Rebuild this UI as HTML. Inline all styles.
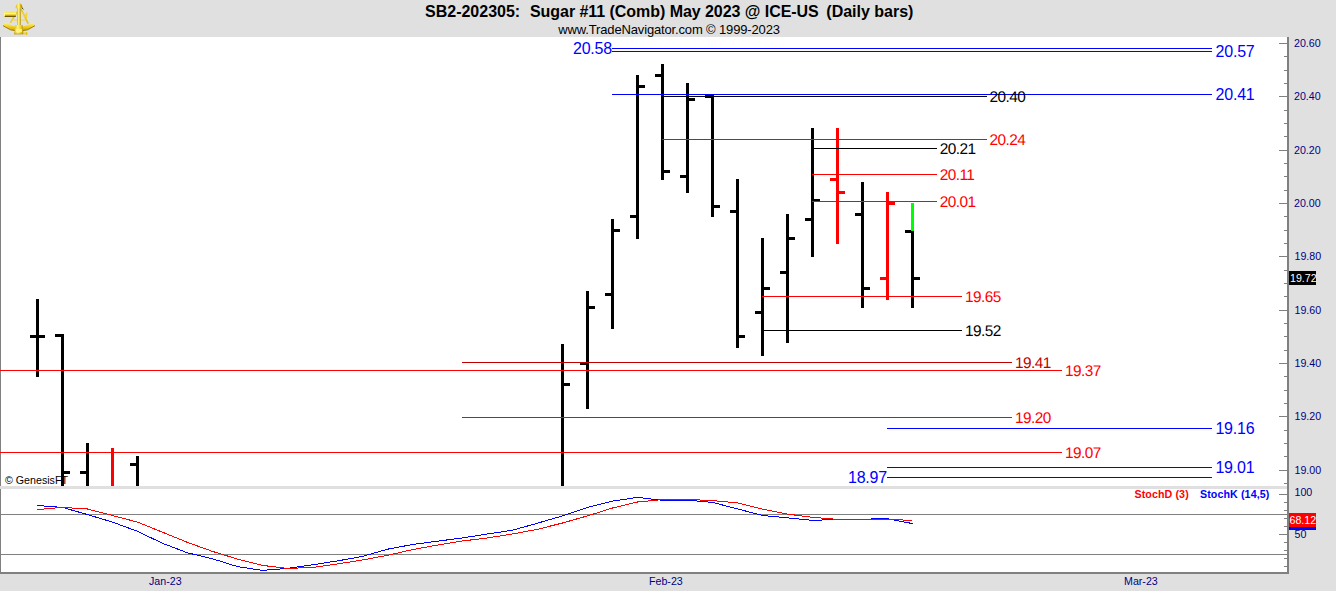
<!DOCTYPE html>
<html><head><meta charset="utf-8"><title>SB2-202305</title>
<style>
html,body{margin:0;padding:0}
body{width:1336px;height:591px;position:relative;overflow:hidden;background:#e0e0e0;font-family:"Liberation Sans",sans-serif}
#c div{position:absolute}
.t{position:absolute;line-height:20px;height:20px;white-space:pre}
.b{letter-spacing:-0.2px}
.m{letter-spacing:-0.56px;font-size:15.4px !important;text-rendering:geometricPrecision;margin-top:0.8px}
.a{position:absolute;font-size:10.667px;line-height:20px;height:20px;color:#000080;white-space:pre}
#plot{position:absolute;left:0;top:37px;width:1287px;height:535px;background:#fff}
.tt{position:absolute;top:2px;font-weight:bold;font-size:16px;line-height:19px;color:#000;white-space:pre}
#sub{position:absolute;left:558.3px;top:21.6px;font-size:13px;letter-spacing:-0.15px;line-height:15px;color:#000;white-space:pre}
</style></head><body>
<div id="plot"></div>
<span class="tt" style="left:425px">SB2-202305:</span><span class="tt" style="left:530px;letter-spacing:-0.05px">Sugar #11 (Comb) May 2023 @ ICE-US</span><span class="tt" style="left:826.3px">(Daily bars)</span>
<div id="sub">www.TradeNavigator.com © 1999-2023</div>
<svg style="position:absolute;left:0;top:0" width="40" height="37" viewBox="0 0 40 37">
<defs>
<linearGradient id="g1" x1="0" y1="0" x2="0" y2="1"><stop offset="0" stop-color="#f6dc3c"/><stop offset="0.3" stop-color="#fff68e"/><stop offset="0.65" stop-color="#e6c010"/><stop offset="1" stop-color="#4a3600"/></linearGradient>
<linearGradient id="g2" x1="0" y1="0" x2="1" y2="0"><stop offset="0" stop-color="#d9b40c"/><stop offset="0.4" stop-color="#fff37c"/><stop offset="0.75" stop-color="#eccb18"/><stop offset="1" stop-color="#a88400"/></linearGradient>
<linearGradient id="g3" x1="0" y1="0" x2="0" y2="1"><stop offset="0" stop-color="#fff58c"/><stop offset="0.45" stop-color="#f4d422"/><stop offset="1" stop-color="#c9a200"/></linearGradient>
</defs>
<path d="M3 25.5 A26 26 0 0 0 35 25.5 L32.3 22.3 A22 22 0 0 1 5.7 22.3Z" fill="url(#g3)"/>
<path d="M3 25.7 A26 26 0 0 0 35 25.7" fill="none" stroke="#8a6800" stroke-width="0.8"/>
<path d="M17.6 11.5 L10.4 22.6" stroke="#e9c71c" stroke-width="1.4" fill="none"/>
<path d="M11.5 20 L27.2 20" stroke="#f4da40" stroke-width="1.1" fill="none"/>
<path d="M21 9 L28.2 23.6" stroke="#e6c216" stroke-width="1.6" fill="none"/>
<path d="M22.2 12 L24.6 17.2 L27 12.6 L26.2 19.5" stroke="#f2d63a" stroke-width="1.2" fill="none"/>
<path d="M21.6 7.5 L23.4 9.2" stroke="#3a2a00" stroke-width="1" fill="none"/>
<rect x="4" y="12" width="12" height="4.9" rx="0.7" fill="url(#g1)"/>
<rect x="4" y="12.3" width="1" height="4.3" fill="#fff48a"/>
<rect x="17.2" y="6" width="3.5" height="21" fill="url(#g2)"/>
<path d="M15.6 8.2 L16.2 5 L19 2.6 L21.9 5 L22.5 8.2Z" fill="url(#g2)"/>
<path d="M19.8 3.4 L21.9 5 L22.5 8.2 L20.6 8.2Z" fill="#b08c00" opacity="0.55"/>
<path d="M15.4 25 L22.6 25 L23.5 34 L14 34Z" fill="url(#g2)"/>
<rect x="15.8" y="29" width="6.2" height="3" fill="#fff590" opacity="0.8"/>
<path d="M14 34 L23.5 34" stroke="#a07c00" stroke-width="0.6"/>
<rect x="23.4" y="32.5" width="3.7" height="2" fill="#f0d024"/>
<rect x="26.2" y="32" width="1" height="3" fill="#e0bc10"/>
</svg>
<div id="c">
<div style="left:0;top:37px;width:1px;height:537px;background:#808080"></div>
<div style="left:1287px;top:37px;width:2px;height:537px;background:#808080"></div>
<div style="left:0;top:572px;width:1289px;height:2px;background:#808080"></div>
<div style="left:36px;top:299px;width:3px;height:78px;background:#000;"></div>
<div style="left:30px;top:335px;width:6px;height:3px;background:#000;"></div>
<div style="left:39px;top:335px;width:6px;height:3px;background:#000;"></div>
<div style="left:61px;top:334px;width:3px;height:152px;background:#000;"></div>
<div style="left:55px;top:334px;width:6px;height:3px;background:#000;"></div>
<div style="left:64px;top:471px;width:6px;height:3px;background:#000;"></div>
<div style="left:86px;top:443px;width:3px;height:43px;background:#000;"></div>
<div style="left:80px;top:471px;width:6px;height:3px;background:#000;"></div>
<div style="left:111px;top:448px;width:3px;height:38px;background:#ff0000;"></div>
<div style="left:136px;top:456px;width:3px;height:30px;background:#000;"></div>
<div style="left:130px;top:463px;width:6px;height:3px;background:#000;"></div>
<div style="left:561px;top:344px;width:3px;height:142px;background:#000;"></div>
<div style="left:564px;top:383px;width:6px;height:3px;background:#000;"></div>
<div style="left:586px;top:291px;width:3px;height:118px;background:#000;"></div>
<div style="left:580px;top:362px;width:6px;height:3px;background:#000;"></div>
<div style="left:589px;top:306px;width:6px;height:3px;background:#000;"></div>
<div style="left:611px;top:219px;width:3px;height:110px;background:#000;"></div>
<div style="left:605px;top:293px;width:6px;height:3px;background:#000;"></div>
<div style="left:614px;top:229px;width:6px;height:3px;background:#000;"></div>
<div style="left:636px;top:75px;width:3px;height:164px;background:#000;"></div>
<div style="left:630px;top:215px;width:6px;height:3px;background:#000;"></div>
<div style="left:639px;top:85px;width:6px;height:3px;background:#000;"></div>
<div style="left:661px;top:64px;width:3px;height:116px;background:#000;"></div>
<div style="left:655px;top:74px;width:6px;height:3px;background:#000;"></div>
<div style="left:664px;top:170px;width:6px;height:3px;background:#000;"></div>
<div style="left:686px;top:83px;width:3px;height:110px;background:#000;"></div>
<div style="left:680px;top:175px;width:6px;height:3px;background:#000;"></div>
<div style="left:689px;top:98px;width:6px;height:3px;background:#000;"></div>
<div style="left:711px;top:95px;width:3px;height:122px;background:#000;"></div>
<div style="left:705px;top:95px;width:6px;height:3px;background:#000;"></div>
<div style="left:714px;top:205px;width:6px;height:3px;background:#000;"></div>
<div style="left:736px;top:179px;width:3px;height:169px;background:#000;"></div>
<div style="left:730px;top:210px;width:6px;height:3px;background:#000;"></div>
<div style="left:739px;top:335px;width:6px;height:3px;background:#000;"></div>
<div style="left:761px;top:238px;width:3px;height:118px;background:#000;"></div>
<div style="left:755px;top:311px;width:6px;height:3px;background:#000;"></div>
<div style="left:764px;top:287px;width:6px;height:3px;background:#000;"></div>
<div style="left:786px;top:214px;width:3px;height:129px;background:#000;"></div>
<div style="left:780px;top:271px;width:6px;height:3px;background:#000;"></div>
<div style="left:789px;top:237px;width:6px;height:3px;background:#000;"></div>
<div style="left:811px;top:128px;width:3px;height:129px;background:#000;"></div>
<div style="left:805px;top:218px;width:6px;height:3px;background:#000;"></div>
<div style="left:814px;top:199px;width:6px;height:3px;background:#000;"></div>
<div style="left:836px;top:128px;width:3px;height:116px;background:#ff0000;"></div>
<div style="left:830px;top:178px;width:6px;height:3px;background:#ff0000;"></div>
<div style="left:839px;top:191px;width:6px;height:3px;background:#ff0000;"></div>
<div style="left:861px;top:182px;width:3px;height:126px;background:#000;"></div>
<div style="left:855px;top:213px;width:6px;height:3px;background:#000;"></div>
<div style="left:864px;top:287px;width:6px;height:3px;background:#000;"></div>
<div style="left:886px;top:192px;width:3px;height:108px;background:#ff0000;"></div>
<div style="left:880px;top:277px;width:6px;height:3px;background:#ff0000;"></div>
<div style="left:889px;top:202px;width:6px;height:3px;background:#ff0000;"></div>
<div style="left:911px;top:231px;width:3px;height:77px;background:#000;"></div>
<div style="left:905px;top:230px;width:6px;height:3px;background:#000;"></div>
<div style="left:914px;top:277px;width:6px;height:3px;background:#000;"></div>
<div style="left:911px;top:203px;width:3px;height:28px;background:#00ff00;"></div>
<div style="left:612px;top:48px;width:600px;height:1px;background:#0000ff;"></div>
<div style="left:612px;top:51px;width:600px;height:1px;background:#0000ff;"></div>
<div style="left:612px;top:94px;width:600px;height:1px;background:#0000ff;"></div>
<div style="left:664px;top:96px;width:323px;height:1px;background:#000;"></div>
<div style="left:662px;top:139px;width:325px;height:1px;background:#ff0000;"></div>
<div style="left:814px;top:148px;width:123px;height:1px;background:#000;"></div>
<div style="left:812px;top:174px;width:125px;height:1px;background:#ff0000;"></div>
<div style="left:812px;top:201px;width:125px;height:1px;background:#ff0000;"></div>
<div style="left:762px;top:296px;width:200px;height:1px;background:#ff0000;"></div>
<div style="left:764px;top:330px;width:198px;height:1px;background:#000;"></div>
<div style="left:462px;top:362px;width:550px;height:1px;background:#c00000;"></div>
<div style="left:0px;top:370px;width:1062px;height:1px;background:#ff0000;"></div>
<div style="left:462px;top:417px;width:550px;height:1px;background:#ff0000;"></div>
<div style="left:887px;top:428px;width:325px;height:1px;background:#0000ff;"></div>
<div style="left:0px;top:452px;width:1062px;height:1px;background:#ff0000;"></div>
<div style="left:887px;top:467px;width:325px;height:1px;background:#0000ff;"></div>
<div style="left:887px;top:477px;width:325px;height:1px;background:#0000ff;"></div>
<span class="t b" style="right:724.0px;top:39.3px;font-size:16px;color:#0000ff">20.58</span>
<span class="t b" style="left:1215.5px;top:42.1px;font-size:16px;color:#0000ff">20.57</span>
<span class="t b" style="left:1215.5px;top:85.1px;font-size:16px;color:#0000ff">20.41</span>
<span class="t m" style="left:989.6px;top:87.5px;font-size:15.01px;color:#000">20.40</span>
<span class="t m" style="left:989.6px;top:130px;font-size:15.01px;color:#ff0000">20.24</span>
<span class="t m" style="left:939.7px;top:139px;font-size:15.01px;color:#000">20.21</span>
<span class="t m" style="left:939.7px;top:165px;font-size:15.01px;color:#ff0000">20.11</span>
<span class="t m" style="left:939.7px;top:192.7px;font-size:15.01px;color:#ff0000">20.01</span>
<span class="t m" style="left:965.0px;top:287.6px;font-size:15.01px;color:#ff0000">19.65</span>
<span class="t m" style="left:965.0px;top:321px;font-size:15.01px;color:#000">19.52</span>
<span class="t m" style="left:1015.0px;top:353.5px;font-size:15.01px;color:#c00000">19.41</span>
<span class="t m" style="left:1065.0px;top:361.4px;font-size:15.01px;color:#ff0000">19.37</span>
<span class="t m" style="left:1015.0px;top:408.6px;font-size:15.01px;color:#ff0000">19.20</span>
<span class="t b" style="left:1215.4px;top:419px;font-size:16px;color:#0000ff">19.16</span>
<span class="t m" style="left:1065.0px;top:443.4px;font-size:15.01px;color:#ff0000">19.07</span>
<span class="t b" style="left:1215.4px;top:458px;font-size:16px;color:#0000ff">19.01</span>
<span class="t b" style="right:449.0px;top:468.1px;font-size:16px;color:#0000ff">18.97</span>
<div style="left:1279px;top:43px;width:8px;height:1px;background:#808080;"></div>
<span class="a" style="left:1294px;top:32.7px">20.60</span>
<div style="left:1284px;top:56px;width:3px;height:1px;background:#808080;"></div>
<div style="left:1284px;top:70px;width:3px;height:1px;background:#808080;"></div>
<div style="left:1284px;top:83px;width:3px;height:1px;background:#808080;"></div>
<div style="left:1279px;top:96px;width:8px;height:1px;background:#808080;"></div>
<span class="a" style="left:1294px;top:85.7px">20.40</span>
<div style="left:1284px;top:110px;width:3px;height:1px;background:#808080;"></div>
<div style="left:1284px;top:123px;width:3px;height:1px;background:#808080;"></div>
<div style="left:1284px;top:136px;width:3px;height:1px;background:#808080;"></div>
<div style="left:1279px;top:150px;width:8px;height:1px;background:#808080;"></div>
<span class="a" style="left:1294px;top:139.7px">20.20</span>
<div style="left:1284px;top:163px;width:3px;height:1px;background:#808080;"></div>
<div style="left:1284px;top:176px;width:3px;height:1px;background:#808080;"></div>
<div style="left:1284px;top:190px;width:3px;height:1px;background:#808080;"></div>
<div style="left:1279px;top:203px;width:8px;height:1px;background:#808080;"></div>
<span class="a" style="left:1294px;top:192.7px">20.00</span>
<div style="left:1284px;top:216px;width:3px;height:1px;background:#808080;"></div>
<div style="left:1284px;top:230px;width:3px;height:1px;background:#808080;"></div>
<div style="left:1284px;top:243px;width:3px;height:1px;background:#808080;"></div>
<div style="left:1279px;top:256px;width:8px;height:1px;background:#808080;"></div>
<span class="a" style="left:1294.5px;top:245.7px">19.80</span>
<div style="left:1284px;top:270px;width:3px;height:1px;background:#808080;"></div>
<div style="left:1284px;top:283px;width:3px;height:1px;background:#808080;"></div>
<div style="left:1284px;top:296px;width:3px;height:1px;background:#808080;"></div>
<div style="left:1279px;top:310px;width:8px;height:1px;background:#808080;"></div>
<span class="a" style="left:1294.5px;top:299.7px">19.60</span>
<div style="left:1284px;top:323px;width:3px;height:1px;background:#808080;"></div>
<div style="left:1284px;top:336px;width:3px;height:1px;background:#808080;"></div>
<div style="left:1284px;top:350px;width:3px;height:1px;background:#808080;"></div>
<div style="left:1279px;top:363px;width:8px;height:1px;background:#808080;"></div>
<span class="a" style="left:1294.5px;top:352.7px">19.40</span>
<div style="left:1284px;top:376px;width:3px;height:1px;background:#808080;"></div>
<div style="left:1284px;top:390px;width:3px;height:1px;background:#808080;"></div>
<div style="left:1284px;top:403px;width:3px;height:1px;background:#808080;"></div>
<div style="left:1279px;top:416px;width:8px;height:1px;background:#808080;"></div>
<span class="a" style="left:1294.5px;top:405.7px">19.20</span>
<div style="left:1284px;top:430px;width:3px;height:1px;background:#808080;"></div>
<div style="left:1284px;top:443px;width:3px;height:1px;background:#808080;"></div>
<div style="left:1284px;top:456px;width:3px;height:1px;background:#808080;"></div>
<div style="left:1279px;top:470px;width:8px;height:1px;background:#808080;"></div>
<span class="a" style="left:1294.5px;top:459.7px">19.00</span>
<div style="left:1284px;top:483px;width:3px;height:1px;background:#808080;"></div>
<div style="left:1279px;top:494px;width:8px;height:1px;background:#808080;"></div>
<div style="left:1284px;top:502px;width:3px;height:1px;background:#808080;"></div>
<div style="left:1284px;top:510px;width:3px;height:1px;background:#808080;"></div>
<div style="left:1284px;top:518px;width:3px;height:1px;background:#808080;"></div>
<div style="left:1284px;top:526px;width:3px;height:1px;background:#808080;"></div>
<div style="left:1279px;top:534px;width:8px;height:1px;background:#808080;"></div>
<div style="left:1284px;top:542px;width:3px;height:1px;background:#808080;"></div>
<div style="left:1284px;top:550px;width:3px;height:1px;background:#808080;"></div>
<div style="left:1284px;top:558px;width:3px;height:1px;background:#808080;"></div>
<div style="left:1284px;top:566px;width:3px;height:1px;background:#808080;"></div>
<span class="a" style="left:1294.5px;top:481.5px">100</span>
<span class="a" style="left:1294.5px;top:523.5px">50</span>
<div style="left:1px;top:514px;width:1286px;height:1px;background:#808080;"></div>
<div style="left:1px;top:554px;width:1286px;height:1px;background:#808080;"></div>
<div style="left:0;top:486px;width:1287px;height:3px;background:#e0e0e0"></div>
<span class="t" style="left:5px;top:470px;font-size:10.667px;color:#000">© GenesisFT</span>
<span class="t" style="left:1134.5px;top:483.5px;letter-spacing:0.1px;font-size:10.667px;font-weight:bold;color:#ff0000">StochD (3)</span>
<span class="t" style="left:1200px;top:483.5px;letter-spacing:0.1px;font-size:10.667px;font-weight:bold;color:#0000ff">StochK (14,5)</span>
<div style="left:1289px;top:271px;width:27px;height:14px;background:#000"></div>
<span class="a" style="left:1290px;top:268px;color:#fff">19.72</span>
<div style="left:1289px;top:516px;width:27px;height:14px;background:#0000ff"></div>
<div style="left:1289px;top:513px;width:27px;height:14px;background:#ff0000"></div>
<span class="a" style="left:1289.5px;top:510px;color:#fff">68.12</span>
<span class="a" style="left:149px;top:571px">Jan-23</span>
<span class="a" style="left:649px;top:571px">Feb-23</span>
<span class="a" style="left:1124px;top:571px">Mar-23</span>
</div>
<svg style="position:absolute;left:0;top:0" width="1336" height="591" shape-rendering="crispEdges"><polyline fill="none" stroke="#0000ff" stroke-width="1" points="37,505.5 62.5,507.4 87.5,514.6 112.5,522.1 137.5,531.3 162.5,543.3 187.5,552.8 212.5,558.8 237.5,566.6 262.5,570.4 287.5,568.4 312.5,564.8 337.5,560.9 362.5,556.4 387.5,549.2 412.5,544.5 437.5,541.2 462.5,537.9 487.5,534 512.5,530.2 537.5,523.2 562.5,515.9 587.5,507.4 612.5,501.1 637.5,497.4 662.5,500.3 687.5,500.2 712.5,502.4 737.5,508.9 762.5,515.5 787.5,517.8 812.5,520.4 837.5,519.4 862.5,519.6 875,518.7 887.5,518.7 912.5,523.6"/><polyline fill="none" stroke="#ff0000" stroke-width="1" points="37,509.6 62.5,507.4 87.5,509 112.5,515.5 137.5,522.1 162.5,532.2 187.5,542.4 212.5,551.4 237.5,559.1 262.5,565.4 287.5,568.4 312.5,567.5 337.5,563.9 362.5,560 387.5,555.3 412.5,549.6 437.5,545.1 462.5,541 487.5,537.9 512.5,534 537.5,529.3 562.5,523 587.5,515.9 612.5,508 637.5,502 662.5,499.6 687.5,499.4 712.5,500.6 737.5,502.9 762.5,509.2 787.5,514.1 812.5,517.3 837.5,519.4 862.5,519.4 887.5,519.4 912.5,520.4"/></svg>
</body></html>
